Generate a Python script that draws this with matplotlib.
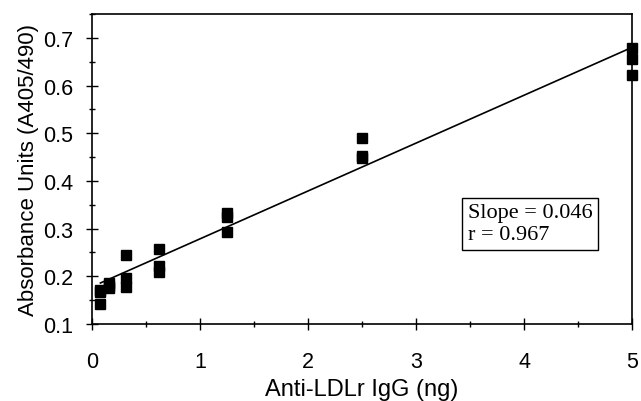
import matplotlib.pyplot as plt
from matplotlib.ticker import MultipleLocator

# Anti-LDLr IgG amount (ng) and triplicate absorbance readings
igg_ng = [0.078, 0.078, 0.078,
          0.156, 0.156, 0.156,
          0.3125, 0.3125, 0.3125,
          0.625, 0.625, 0.625,
          1.25, 1.25, 1.25,
          2.5, 2.5, 2.5,
          5.0, 5.0, 5.0]
absorbance = [0.172, 0.168, 0.142,
              0.187, 0.180, 0.175,
              0.245, 0.196, 0.177,
              0.257, 0.222, 0.210,
              0.333, 0.325, 0.292,
              0.489, 0.452, 0.448,
              0.678, 0.656, 0.622]

# regression line end points
fit_x = [0.078, 5.0]
fit_y = [0.186, 0.680]

plt.rcParams['font.family'] = ['Liberation Sans', 'DejaVu Sans']

fig = plt.figure(figsize=(6.41, 4.02), dpi=100)
ax = fig.add_axes([0.1435, 0.1915, 0.8425, 0.7712])

ax.plot(fit_x, fit_y, color='black', lw=1.2, zorder=2)
ax.plot(igg_ng, absorbance, 's', color='black', markersize=7.5,
        clip_on=False, zorder=3)

ax.set_xlim(0, 5)
ax.set_ylim(0.1, 0.75)
ax.set_yticks([0.1, 0.2, 0.3, 0.4, 0.5, 0.6, 0.7])
ax.xaxis.set_major_locator(MultipleLocator(1))
ax.xaxis.set_minor_locator(MultipleLocator(0.5))
ax.yaxis.set_minor_locator(MultipleLocator(0.05))
ax.tick_params(which='major', direction='inout', length=9, width=1,
               labelsize=15.5)
ax.tick_params(which='minor', direction='inout', length=5, width=1)
ax.tick_params(axis='y', pad=9)
ax.tick_params(axis='x', pad=15)

for s in ax.spines.values():
    s.set_linewidth(1.2)

ax.set_xlabel('Anti-LDLr IgG (ng)', fontsize=17, labelpad=4)
ax.set_ylabel('Absorbance Units (A405/490)', fontsize=16, labelpad=3)

ax.text(0.811, 0.324, 'Slope = 0.046\nr = 0.967', transform=ax.transAxes,
        family=['Liberation Serif', 'DejaVu Serif'], fontsize=16,
        linespacing=1.2, va='center', ha='center', multialignment='left',
        bbox=dict(boxstyle='square,pad=0.25', facecolor='white',
                  edgecolor='black', linewidth=1))

fig.savefig('out.png', dpi=100)
